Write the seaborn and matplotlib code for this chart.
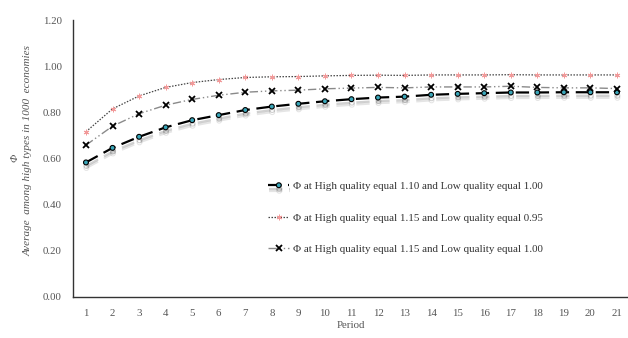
import matplotlib
matplotlib.use("Agg")
import matplotlib.pyplot as plt
import matplotlib.patheffects as pe
import seaborn as sns
import numpy as np

periods = list(range(1, 22))

phi_110_100 = [0.583, 0.646, 0.694, 0.735, 0.766, 0.788, 0.810, 0.825, 0.837, 0.848,
               0.857, 0.864, 0.868, 0.876, 0.880, 0.883, 0.886, 0.886, 0.887, 0.887, 0.887]
phi_115_095 = [0.716, 0.815, 0.871, 0.908, 0.929, 0.942, 0.951, 0.954, 0.955, 0.958,
               0.960, 0.961, 0.960, 0.962, 0.962, 0.962, 0.963, 0.962, 0.962, 0.962, 0.962]
phi_115_100 = [0.658, 0.740, 0.794, 0.831, 0.856, 0.874, 0.887, 0.893, 0.896, 0.902,
               0.905, 0.908, 0.906, 0.910, 0.910, 0.910, 0.913, 0.908, 0.906, 0.906, 0.903]

labels = [
    "\u03a6 at High quality equal 1.10 and Low quality equal 1.00",
    "\u03a6 at High quality equal 1.15 and Low quality equal 0.95",
    "\u03a6 at High quality equal 1.15 and Low quality equal 1.00",
]
y_ticks = [0.0, 0.2, 0.4, 0.6, 0.8, 1.0, 1.2]

sns.set_theme(style="white")
plt.rcParams["font.family"] = ["Liberation Serif", "DejaVu Serif"]

text_color = "#555555"
fig = plt.figure(figsize=(6.28, 3.38), dpi=100)
ax = fig.add_axes([72.7 / 628, 1 - 297 / 338, 21 * 26.55 / 628, (297 - 20) / 338])

shadow = [pe.SimpleLineShadow(offset=(0.3, -2.5), shadow_color="#000000", alpha=0.18),
          pe.SimpleLineShadow(offset=(0.3, -4.0), shadow_color="#000000", alpha=0.10),
          pe.Normal()]

sns.lineplot(x=periods, y=phi_110_100, ax=ax, color="black", linewidth=1.6,
             linestyle=(0, (6, 3)), marker="o", markersize=3.5,
             markerfacecolor="#3aa6b9", markeredgecolor="black", markeredgewidth=0.8,
             label=labels[0], path_effects=shadow)
sns.lineplot(x=periods, y=phi_115_095, ax=ax, color="#444444", linewidth=0.9,
             linestyle=(0, (1.2, 1.2)), marker=(6, 2, 0), markersize=4,
             markeredgecolor="#f29a9a", markerfacecolor="#f29a9a", markeredgewidth=0.7,
             label=labels[1])
sns.lineplot(x=periods, y=phi_115_100, ax=ax, color="#8a8a8a", linewidth=1.0,
             linestyle=(0, (6, 2, 1, 2, 1, 2)), marker="x", markersize=3.8,
             markeredgecolor="black", markeredgewidth=1.3,
             label=labels[2])

ax.set_xlim(0.5, 21.5)
ax.set_ylim(0, 1.2)
ax.set_xticks(periods)
ax.set_xticklabels([str(p) for p in periods])
ax.set_xticks(np.arange(0.5, 21.6, 1.0), minor=True)
ax.tick_params(axis="x", which="major", length=0, pad=9, labelsize=7.8, labelcolor=text_color)
ax.tick_params(axis="x", which="minor", length=4, width=0.8, color="#333333", direction="out")
ax.set_yticks(y_ticks)
ax.set_yticklabels([f"{v:.2f}" for v in y_ticks])
ax.tick_params(axis="y", which="major", length=4, width=0.8, color="#333333",
               direction="out", labelsize=7.8, labelcolor=text_color, pad=4)

for side in ["top", "right"]:
    ax.spines[side].set_visible(False)
for side in ["left", "bottom"]:
    ax.spines[side].set_color("#333333")
    ax.spines[side].set_linewidth(1.0)

ax.set_xlabel("")
ax.set_ylabel("")
fig.text(351 / 628, 1 - 326 / 338, "Period", ha="center", va="center",
         fontsize=7.8, color=text_color)
fig.text(15 / 628, 1 - 158 / 338, "\u03a6", rotation=90, ha="center", va="center",
         fontsize=7.8, style="italic", color=text_color)
fig.text(28 / 628, 1 - 150 / 338, "Average  among high types in 1000  economies",
         rotation=90, ha="center", va="center", fontsize=8, style="italic",
         color=text_color)

leg = ax.legend(loc="upper left", bbox_to_anchor=((264 - 72.7) / (21 * 26.55), (297 - 177) / 277),
                frameon=False, fontsize=7.9, handlelength=1.9, handletextpad=0.3,
                labelspacing=2.0, borderaxespad=0)
for t in leg.get_texts():
    t.set_color("#333333")

fig.savefig("out.png", dpi=100)
